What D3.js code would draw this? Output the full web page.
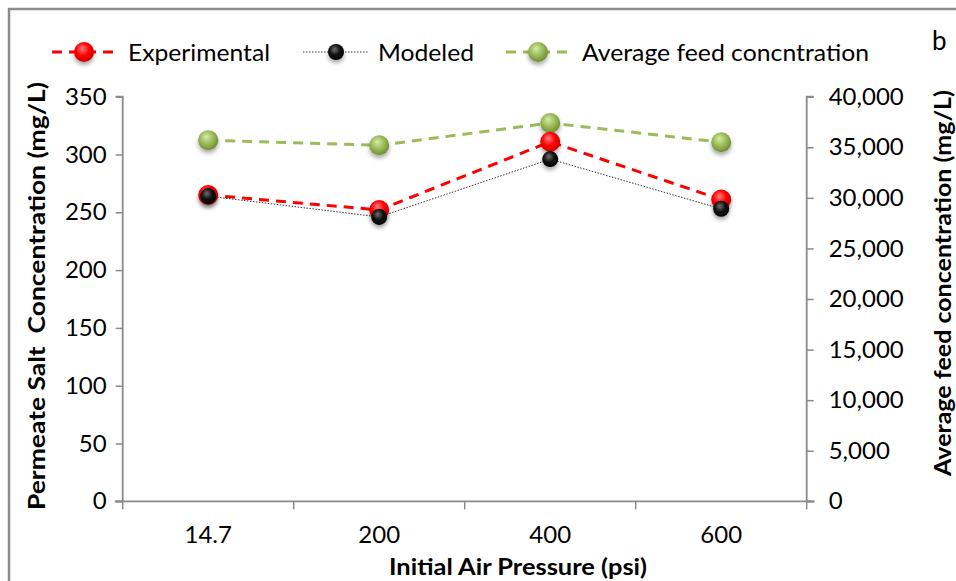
<!DOCTYPE html>
<html>
<head>
<meta charset="utf-8">
<script src="https://cdn.jsdelivr.net/npm/d3@7"></script>
<style>
  html, body { margin: 0; padding: 0; background: #fff; }
  svg { display: block; font-family: Lato, "Open Sans", sans-serif; }
</style>
</head>
<body>
<svg id="chart" width="956" height="581"></svg>
<script>
// Initial air pressure categories (psi)
const pressures = ["14.7", "200", "400", "600"];
// Permeate salt concentration (mg/L), left axis
const experimental = [265, 252, 311, 261];
const modeled = [264, 246, 296, 253];
// Average feed concentration (mg/L), right axis
const avgFeed = [35700, 35200, 37400, 35500];
// Axis ticks
const leftTicks = [0, 50, 100, 150, 200, 250, 300, 350];
const rightTicks = [0, 5000, 10000, 15000, 20000, 25000, 30000, 35000, 40000];

const svg = d3.select("#chart");
const plot = { left: 122.7, right: 806.7, top: 96.7, bottom: 501.3 };
const axisColor = "#8a8a8a";

// Outer frame
svg.append("rect")
  .attr("x", 9).attr("y", 9).attr("width", 1000).attr("height", 1000)
  .attr("fill", "none").attr("stroke", "#8c8c8c").attr("stroke-width", 2.5);

const x = d3.scaleBand().domain(pressures).range([plot.left, plot.right]).paddingInner(0).paddingOuter(0);
const cx = d => x(d) + x.bandwidth() / 2;
const yL = d3.scaleLinear().domain([0, 350]).range([plot.bottom, plot.top]);
const yR = d3.scaleLinear().domain([0, 40000]).range([plot.bottom, plot.top]);

// Marker gradients and shadow
const defs = svg.append("defs");
function glossy(id, hi, mid, lo) {
  const g = defs.append("radialGradient").attr("id", id)
    .attr("cx", "45%").attr("cy", "40%").attr("r", "60%").attr("fx", "40%").attr("fy", "32%");
  g.append("stop").attr("offset", "0%").attr("stop-color", hi);
  g.append("stop").attr("offset", "55%").attr("stop-color", mid);
  g.append("stop").attr("offset", "100%").attr("stop-color", lo);
}
glossy("gRed", "#ff8080", "#ff0000", "#c80000");
glossy("gBlack", "#707070", "#111111", "#000000");
glossy("gGreen", "#d6eca4", "#9bbb59", "#6f8c32");
const shadow = defs.append("filter").attr("id", "shadow")
  .attr("x", "-50%").attr("y", "-50%").attr("width", "200%").attr("height", "220%");
shadow.append("feDropShadow").attr("dx", 0).attr("dy", 3).attr("stdDeviation", 2.2)
  .attr("flood-color", "#000").attr("flood-opacity", 0.35);

// Left axis
const gL = svg.append("g").attr("transform", `translate(${plot.left},0)`)
  .call(d3.axisLeft(yL).tickValues(leftTicks).tickSize(7).tickPadding(9).tickFormat(d3.format("d")));
// Right axis
const gR = svg.append("g").attr("transform", `translate(${plot.right},0)`)
  .call(d3.axisRight(yR).tickValues(rightTicks).tickSize(7).tickPadding(15).tickFormat(d3.format(",")));
// Bottom axis: labels at category centres, ticks at category boundaries
const gB = svg.append("g").attr("transform", `translate(0,${plot.bottom})`)
  .call(d3.axisBottom(x).tickSize(0).tickPadding(25));
const bounds = pressures.map(p => x(p)).concat([plot.right]);
gB.selectAll(".bound").data(bounds).enter().append("line")
  .attr("x1", d => d).attr("x2", d => d).attr("y1", 0).attr("y2", 8)
  .attr("stroke", axisColor).attr("stroke-width", 1.5);

[gL, gR, gB].forEach(g => {
  g.select(".domain").attr("stroke", axisColor).attr("stroke-width", 1.8);
  g.selectAll(".tick line").attr("stroke", axisColor).attr("stroke-width", 1.5);
  g.selectAll(".tick text").attr("fill", "#000").style("font-size", "24px").style("font-family", "Lato, sans-serif");
});
gL.select(".domain").attr("d", `M-7,${plot.top}H0V${plot.bottom}H-7`);
gR.select(".domain").attr("d", `M7,${plot.top}H0V${plot.bottom}H7`);
gB.select(".domain").attr("d", `M${plot.left - 8},0H${plot.right + 8}`);

// Axis titles
svg.append("text").attr("transform", "translate(45,296) rotate(-90)")
  .attr("text-anchor", "middle").style("font-weight", "bold").style("font-size", "23px")
  .style("white-space", "pre").attr("xml:space", "preserve")
  .attr("textLength", 428).attr("lengthAdjust", "spacingAndGlyphs")
  .text("Permeate Salt  Concentration (mg/L)");
svg.append("text").attr("transform", "translate(951,283) rotate(-90)")
  .attr("text-anchor", "middle").style("font-weight", "bold").style("font-size", "23px")
  .attr("textLength", 386).attr("lengthAdjust", "spacingAndGlyphs")
  .text("Average feed concentration (mg/L)");
svg.append("text").attr("x", 518).attr("y", 575)
  .attr("text-anchor", "middle").style("font-weight", "bold").style("font-size", "23px")
  .attr("textLength", 258).attr("lengthAdjust", "spacingAndGlyphs")
  .text("Initial Air Pressure (psi)");
svg.append("text").attr("x", 932).attr("y", 50).style("font-size", "26px").text("b");

// Series definitions
const series = [
  { name: "Average feed concentration", values: avgFeed, y: yR, color: "#9bbb59", width: 3, dash: "10,7", grad: "gGreen", r: 10 },
  { name: "Experimental", values: experimental, y: yL, color: "#ff0000", width: 3, dash: "10,7", grad: "gRed", r: 10 },
  { name: "Modeled", values: modeled, y: yL, color: "#333", width: 1, dash: "1.5,1.5", grad: "gBlack", r: 8 }
];

const line = s => d3.line().x((d, i) => cx(pressures[i])).y(d => s.y(d));
series.forEach(s => {
  svg.append("path").datum(s.values).attr("d", line(s))
    .attr("fill", "none").attr("stroke", s.color).attr("stroke-width", s.width)
    .attr("stroke-dasharray", s.dash);
});
series.forEach(s => {
  svg.append("g").selectAll("circle").data(s.values).enter().append("circle")
    .attr("cx", (d, i) => cx(pressures[i])).attr("cy", d => s.y(d)).attr("r", s.r)
    .attr("fill", `url(#${s.grad})`).attr("filter", "url(#shadow)");
});

// Legend
const legend = [
  { label: "Experimental", s: series[1], x0: 52, x1: 116, tx: 128, w: 142 },
  { label: "Modeled", s: series[2], x0: 303, x1: 369, tx: 378, w: 96 },
  { label: "Average feed concntration", s: series[0], x0: 506, x1: 570, tx: 582, w: 287 }
];
const ly = 52;
legend.forEach(l => {
  svg.append("line").attr("x1", l.x0).attr("x2", l.x1).attr("y1", ly).attr("y2", ly)
    .attr("stroke", l.s.color).attr("stroke-width", l.s.width).attr("stroke-dasharray", l.s.dash);
  svg.append("circle").attr("cx", (l.x0 + l.x1) / 2).attr("cy", ly).attr("r", l.s.r)
    .attr("fill", `url(#${l.s.grad})`).attr("filter", "url(#shadow)");
  svg.append("text").attr("x", l.tx).attr("y", ly + 9).style("font-size", "24px")
    .attr("textLength", l.w).attr("lengthAdjust", "spacingAndGlyphs").text(l.label);
});
</script>
</body>
</html>
